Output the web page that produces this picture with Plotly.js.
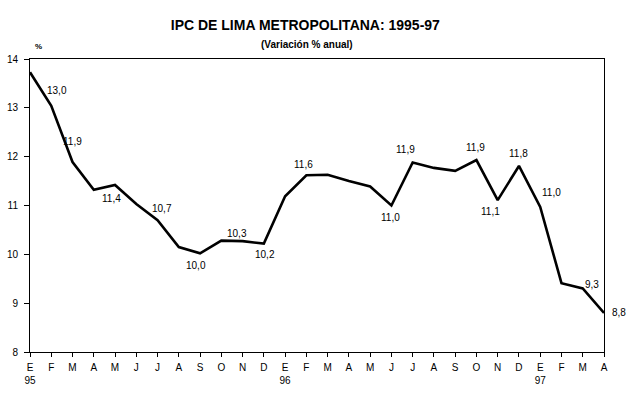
<!DOCTYPE html>
<html>
<head>
<meta charset="utf-8">
<script src="https://cdn.plot.ly/plotly-3.0.1.min.js"></script>
<style>html,body{margin:0;padding:0;background:#fff;}#chart{width:640px;height:396px;}</style>
</head>
<body>
<div id="chart"></div>
<script>
// Data
var months = ["E","F","M","A","M","J","J","A","S","O","N","D",
              "E","F","M","A","M","J","J","A","S","O","N","D",
              "E","F","M","A"];
var years = ["95","","","","","","","","","","","",
             "96","","","","","","","","","","","",
             "97","","",""];
var ipc = [13.73, 13.04, 11.89, 11.32, 11.42, 11.03, 10.70, 10.15, 10.02, 10.28, 10.27, 10.22,
           11.19, 11.62, 11.63, 11.50, 11.39, 11.00, 11.88, 11.77, 11.71, 11.93, 11.11, 11.81,
           10.97, 9.41, 9.30, 8.80];
var labelIdx = [1, 2, 4, 6, 8, 10, 11, 13, 17, 18, 21, 22, 23, 24, 26, 27];
// label offsets in px (style)
var labelDx = [6, 0, -4, 4, -4, -6, 1, -3, -1, -7, -1, -7, 0, 11, 9, 15];
var labelDy = [15, 21, -14, 12, -12, 8, -11, 11, -12, 13, 13, -11, 12, 14, 4, 0];

var idx = ipc.map(function(v, i){ return i; });
var ticktext = months.map(function(m, i){ return years[i] ? m + "<br>" + years[i] : m; });

var FONT = "Arial, 'Liberation Sans', sans-serif";

var annotations = labelIdx.map(function(i, k){
  return {
    x: i, y: ipc[i], xref: "x", yref: "y",
    text: ipc[i].toFixed(1).replace(".", ","),
    showarrow: false, xanchor: "center", yanchor: "middle",
    xshift: labelDx[k], yshift: labelDy[k],
    font: {family: FONT, size: 10, color: "#000"}
  };
});
annotations.push({
  x: 308.5/640, y: 1.051, xref: "paper", yref: "paper",
  text: "<b>(Variación % anual)</b>", showarrow: false,
  xanchor: "center", yanchor: "middle",
  font: {family: FONT, size: 10, color: "#000"}
});
annotations.push({
  x: 8.5/574, y: 1.044, xref: "paper", yref: "paper",
  text: "<b>%</b>", showarrow: false,
  xanchor: "center", yanchor: "middle",
  font: {family: FONT, size: 8, color: "#000"}
});

var trace = {
  x: idx, y: ipc, type: "scatter", mode: "lines",
  line: {color: "#000", width: 2.6},
  hoverinfo: "skip"
};

var layout = {
  width: 640, height: 396,
  margin: {l: 30, r: 36, t: 59, b: 44},
  paper_bgcolor: "#fff", plot_bgcolor: "#fff",
  showlegend: false,
  font: {family: FONT, size: 10, color: "#000"},
  title: {
    text: "<b>IPC DE LIMA METROPOLITANA: 1995-97</b>",
    font: {family: FONT, size: 14, color: "#000"},
    x: 307/640, xanchor: "center", xref: "paper",
    y: 1 - 25/396, yanchor: "middle", yref: "container"
  },
  xaxis: {
    range: [0, 27], tickmode: "array", tickvals: idx, ticktext: ticktext,
    showgrid: false, zeroline: false,
    showline: true, linecolor: "#000", linewidth: 1, mirror: true,
    ticks: "outside", ticklen: 4, tickcolor: "#000", tickwidth: 1,
    tickangle: 0, ticklabelstandoff: 2,
    tickfont: {family: FONT, size: 10, color: "#000"}
  },
  yaxis: {
    range: [8, 14], dtick: 1, tick0: 8,
    showgrid: false, zeroline: false,
    showline: true, linecolor: "#000", linewidth: 1, mirror: true,
    ticks: "outside", ticklen: 5, tickcolor: "#000", tickwidth: 1,
    ticklabelstandoff: 4,
    tickfont: {family: FONT, size: 10, color: "#000"}
  },
  annotations: annotations
};

Plotly.newPlot("chart", [trace], layout, {displayModeBar: false, staticPlot: true});
</script>
</body>
</html>
